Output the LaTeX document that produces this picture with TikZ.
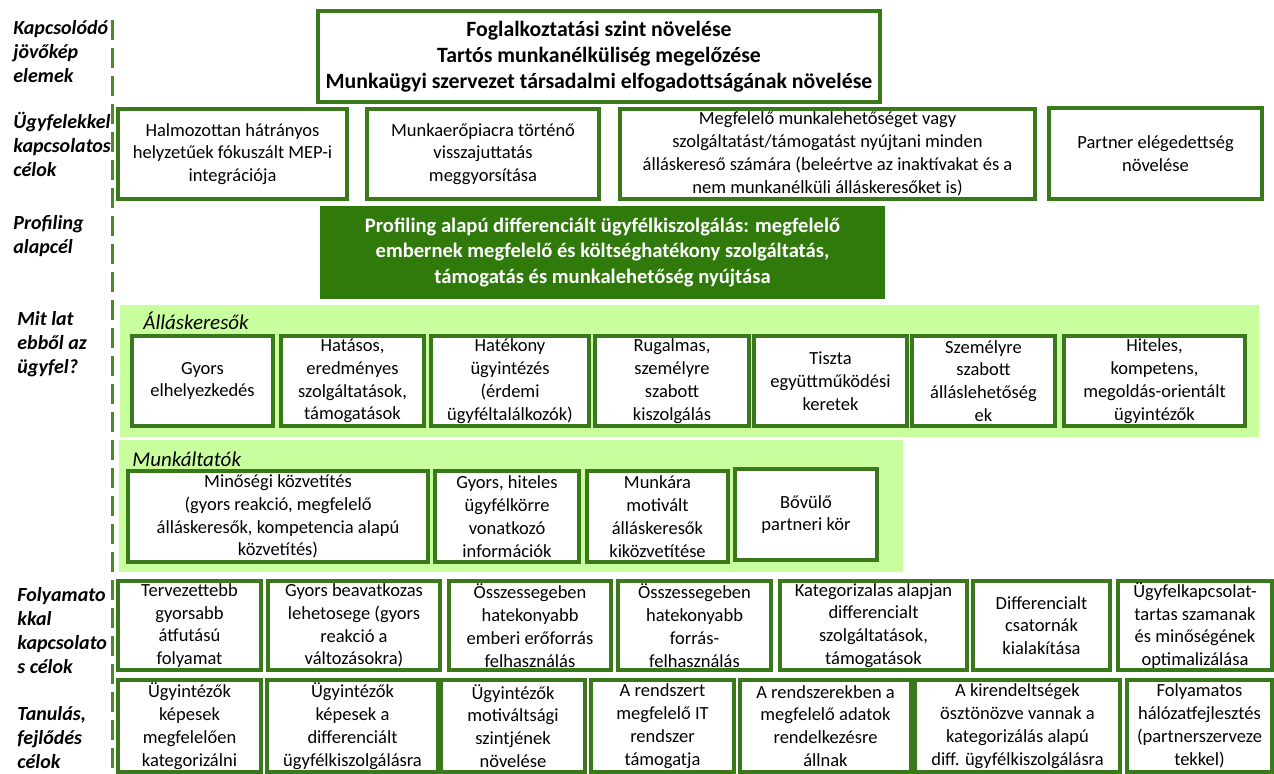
\documentclass[tikz,border=0pt]{standalone}
\usepackage{fontspec}
\setmainfont{Carlito}
\definecolor{boxgreen}{RGB}{58,120,28}
\definecolor{deepgreen}{RGB}{48,122,12}
\definecolor{palegreen}{RGB}{200,254,158}
\definecolor{dashgreen}{RGB}{74,140,44}
\newcommand\bodyfont{\fontsize{9.25}{11.4}\selectfont}
% a white goal box given by its corners (in px units)
\newcommand\goal[6]{\node[goalbox, minimum width={(#4-#2)*0.5pt}, minimum height={(#5-#3)*0.5pt}] (#1) at ({(#2+#4)/2},{(#3+#5)/2}) {#6};}
\begin{document}
\begin{tikzpicture}[x=0.5pt,y=-0.5pt,
  goalbox/.style={draw=boxgreen, line width=2pt, fill=white, inner sep=0pt, align=center, font=\bodyfont},
  band/.style={fill=palegreen, draw=none, inner sep=0pt},
  rowlabel/.style={anchor=north west, align=left, inner sep=0pt, font=\fontsize{10}{12}\selectfont\bfseries\itshape},
  grouplabel/.style={anchor=west, inner sep=0pt, font=\fontsize{10.5}{12}\selectfont\itshape},
  dashline/.style={draw=dashgreen, line width=1.5pt, dash pattern=on 10pt off 4pt}]
\useasboundingbox (0,0) rectangle (1274,774);

% divider between the row titles and the goals
\coordinate (dtop) at (112,20);
\coordinate (dbot) at (112,774);
\draw[dashline] (dtop) -- (dbot);

% row titles
\node[rowlabel] (l1) at (13,20) {Kapcsolódó\\jövőkép\\elemek};
\node[rowlabel] (l2) at (13,112) {Ügyfelekkel\\kapcsolatos\\célok};
\node[rowlabel] (l3) at (13,215) {Profiling\\alapcél};
\node[rowlabel] (l4) at (17,311) {Mit lat\\ebből az\\ügyfel?};
\node[rowlabel] (l5) at (17,587) {Folyamato\\kkal\\kapcsolato\\s célok};
\node[rowlabel] (l6) at (17,706) {Tanulás,\\fejlődés\\célok};

% vision
\node[goalbox, minimum width={562*0.5pt}, minimum height={91*0.5pt}, font=\fontsize{10.9}{12.9}\selectfont\bfseries] (vision) at (599,56.5)
  {Foglalkoztatási szint növelése\\Tartós munkanélküliség megelőzése\\Munkaügyi szervezet társadalmi elfogadottságának növelése};

% client goals
\goal{ca}{118}{109}{347}{199}{Halmozottan hátrányos\\helyzetűek fókuszált MEP-i\\integrációja}
\goal{cb}{367}{109}{599}{199}{Munkaerőpiacra történő\\visszajuttatás\\meggyorsítása}
\goal{cc}{620}{109}{1035}{199}{Megfelelő munkalehetőséget vagy\\szolgáltatást/támogatást nyújtani minden\\álláskereső számára (beleértve az inaktívakat és a\\nem munkanélküli álláskeresőket is)}
\goal{cd}{1049}{108}{1262}{199}{Partner elégedettség\\növelése}

% profiling core goal
\node[fill=deepgreen, draw=deepgreen, line width=1pt, inner sep=0pt, minimum width={563*0.5pt}, minimum height={91*0.5pt}, align=center, text=white, font=\fontsize{10.3}{12.6}\selectfont\bfseries] (prof) at (602.5,252.5)
  {Profiling alapú differenciált ügyfélkiszolgálás: megfelelő\\embernek megfelelő és költséghatékony szolgáltatás,\\támogatás és munkalehetőség nyújtása};

% customer view bands
\node[band, minimum width={1139*0.5pt}, minimum height={132*0.5pt}] (jobband) at (689.5,371) {};
\node[band, minimum width={784*0.5pt}, minimum height={132*0.5pt}] (empband) at (511,506) {};
\node[grouplabel] (jobtitle) at (143,321) {Álláskeresők};
\node[grouplabel] (emptitle) at (132,459) {Munkáltatók};

% job seekers
\goal{a1}{132}{336}{273}{426}{Gyors\\elhelyezkedés}
\goal{a2}{281}{336}{424}{426}{Hatásos,\\eredményes\\szolgáltatások,\\támogatások}
\goal{a3}{431}{336}{589}{426}{Hatékony\\ügyintézés\\(érdemi\\ügyféltalálkozók)}
\goal{a4}{595}{336}{749}{426}{Rugalmas,\\személyre\\szabott\\kiszolgálás}
\goal{a5}{754}{336}{907}{426}{Tiszta\\együttműködési\\keretek}
\goal{a6}{912}{336}{1055}{426}{Személyre\\szabott\\álláslehetőség\\ek}
\goal{a7}{1064}{336}{1245}{426}{Hiteles,\\kompetens,\\megoldás-orientált\\ügyintézők}

% employers
\goal{m1}{128}{471}{428}{562}{Minőségi közvetítés\\(gyors reakció, megfelelő\\álláskeresők, kompetencia alapú\\közvetítés)}
\goal{m2}{435}{471}{579}{562}{Gyors, hiteles\\ügyfélkörre\\vonatkozó\\információk}
\goal{m3}{587}{471}{728}{562}{Munkára\\motivált\\álláskeresők\\kiközvetítése}
\goal{m4}{735}{469}{877}{560}{Bővülő\\partneri kör}

% process goals
\goal{f1}{118}{581}{261}{670}{Tervezettebb\\gyorsabb\\átfutású\\folyamat}
\goal{f2}{268}{581}{440}{670}{Gyors beavatkozas\\lehetosege (gyors\\reakció a\\változásokra)}
\goal{f3}{449}{581}{611}{670}{Összessegeben\\hatekonyabb\\emberi erőforrás\\felhasználás}
\goal{f4}{618}{581}{771}{670}{Összessegeben\\hatekonyabb\\forrás-\\felhasználás}
\goal{f5}{780}{581}{967}{670}{Kategorizalas alapjan\\differencialt\\szolgáltatások,\\támogatások}
\goal{f6}{973}{581}{1110}{670}{Differencialt\\csatornák\\kialakítása}
\goal{f7}{1118}{581}{1272}{670}{Ügyfelkapcsolat-\\tartas szamanak\\és minőségének\\optimalizálása}

% learning and growth goals
\goal{t1}{118}{680}{261}{772}{Ügyintézők\\képesek\\megfelelően\\kategorizálni}
\goal{t2}{267}{680}{438}{772}{Ügyintézők\\képesek a\\differenciált\\ügyfélkiszolgálásra}
\goal{t3}{441}{680}{585}{772}{Ügyintézők\\motiváltsági\\szintjének\\növelése}
\goal{t4}{591}{680}{734}{772}{A rendszert\\megfelelő IT\\rendszer\\támogatja}
\goal{t5}{740}{680}{911}{772}{A rendszerekben a\\megfelelő adatok\\rendelkezésre\\állnak}
\goal{t6}{915}{680}{1120}{772}{A kirendeltségek\\ösztönözve vannak a\\kategorizálás alapú\\diff. ügyfélkiszolgálásra}
\goal{t7}{1127}{680}{1272}{772}{Folyamatos\\hálózatfejlesztés\\(partnerszerveze\\tekkel)}
\end{tikzpicture}
\end{document}
